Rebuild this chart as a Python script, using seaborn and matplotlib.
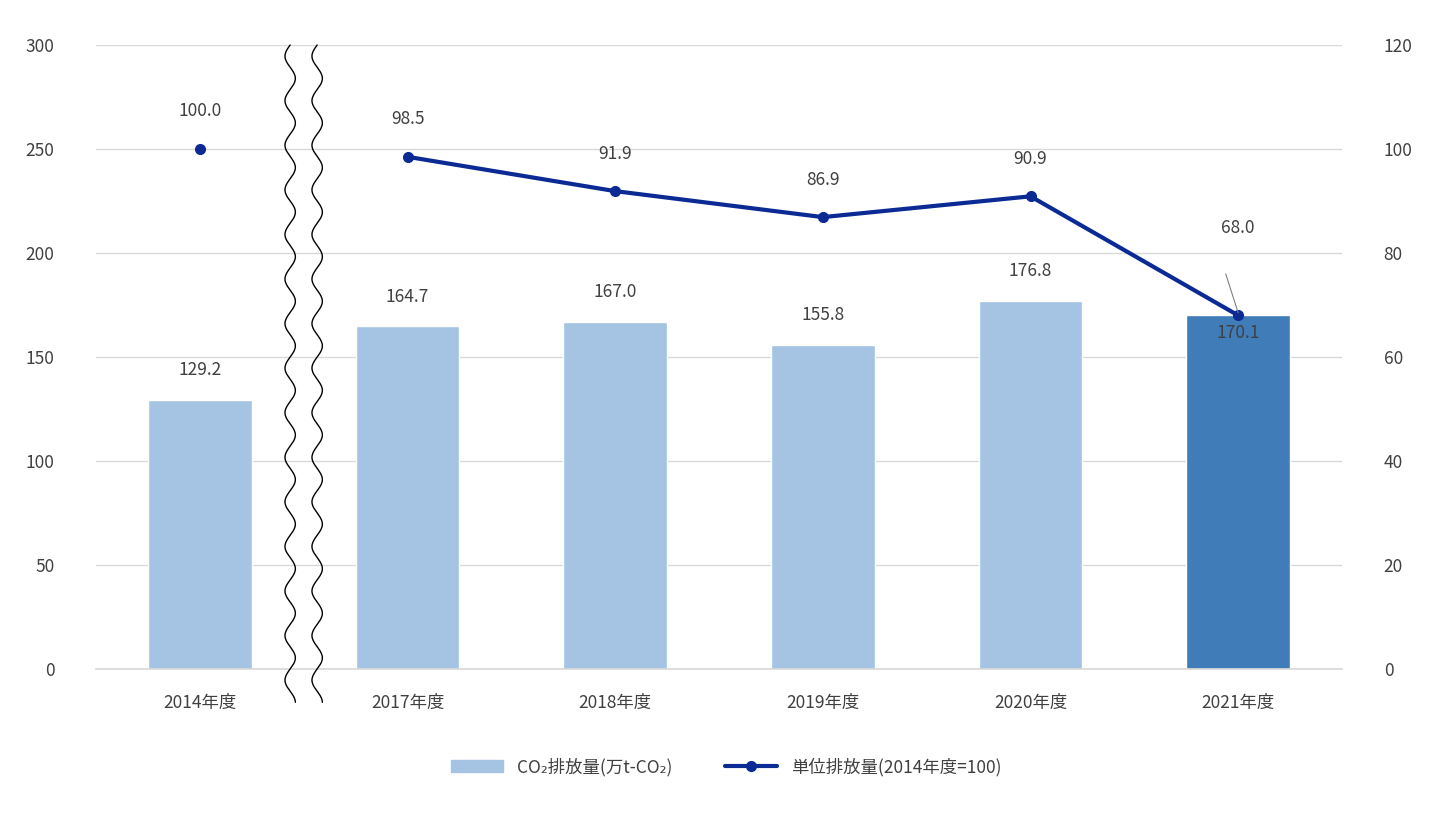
import numpy as np
import pandas as pd
import matplotlib
matplotlib.use("Agg")
import matplotlib.pyplot as plt
import seaborn as sns
from matplotlib.patches import Patch
from matplotlib.lines import Line2D

years = ["2014年度", "2017年度", "2018年度", "2019年度", "2020年度", "2021年度"]
co2 = [129.2, 164.7, 167.0, 155.8, 176.8, 170.1]
unit = [100.0, 98.5, 91.9, 86.9, 90.9, 68.0]

sns.set_theme(style="white")
plt.rcParams['font.family'] = ['Noto Sans CJK JP', 'DejaVu Sans']
tc = "#404040"
light, dark, lc = "#A5C3E2", "#3F7CB8", "#0B2A94"

fig = plt.figure(figsize=(14.38, 8.25), dpi=100)
ax = fig.add_axes([96/1438, 1-669/825, 1246/1438, 624/825])
df = pd.DataFrame({"year": years, "co2": co2})
sns.barplot(data=df, x="year", y="co2", ax=ax, width=0.5,
            palette=[light]*5 + [dark], hue="year", legend=False, saturation=1)
ax.set_xlim(-0.5, 5.5)
ax.set_ylim(0, 300)
ax.set_yticks(range(0, 301, 50))
ax.yaxis.grid(True, color="#D9D9D9", lw=1)
ax.set_axisbelow(True)
for s in ["top", "right", "left"]:
    ax.spines[s].set_visible(False)
ax.spines["bottom"].set_color("#D9D9D9")
ax.set_xlabel(""); ax.set_ylabel("")
ax.tick_params(axis="both", colors=tc, labelsize=12.5, length=0)
ax.tick_params(axis="y", pad=30)
ax.tick_params(axis="x", pad=18)
for i, v in enumerate(co2):
    if i == 5:
        ax.text(i, v - 4, f"{v:.1f}", ha="center", va="top", fontsize=12.5, color=tc)
    else:
        ax.text(i, v + 10, f"{v:.1f}", ha="center", va="bottom", fontsize=12.5, color=tc)

ax2 = ax.twinx()
ax2.set_ylim(0, 120)
ax2.set_yticks(range(0, 121, 20))
for s in ax2.spines.values():
    s.set_visible(False)
ax2.tick_params(axis="y", colors=tc, labelsize=12.5, length=0, pad=30)
ax2.plot([0], [unit[0]], "o", color=lc, ms=7)
ax2.plot(range(1, 6), unit[1:], "-o", color=lc, lw=3, ms=7)
for i, v in enumerate(unit):
    if i == 5:
        ax2.text(i, v + 15, f"{v:.1f}", ha="center", va="bottom", fontsize=12.5, color=tc)
        ax2.plot([i - 0.06, i], [v + 8, v + 0.5], color="#808080", lw=0.8)
    else:
        ax2.text(i, v + 5.5, f"{v:.1f}", ha="center", va="bottom", fontsize=12.5, color=tc)

# axis break (wavy lines)
yy = np.linspace(-16, 300, 600)
for xc in (0.435, 0.565):
    xx = xc + 0.025 * np.sin(yy / 300 * 2 * np.pi * 14)
    ax.plot(xx, yy, color="black", lw=1, clip_on=False, zorder=5)

handles = [Patch(color=light, label="CO₂排放量(万t-CO₂)"),
           Line2D([0], [0], color=lc, lw=3, marker="o", ms=7, label="単位排放量(2014年度=100)")]
fig.legend(handles=handles, loc="center", bbox_to_anchor=(0.505, 1-767/825), ncol=2,
           frameon=False, fontsize=12.5, labelcolor=tc, handlelength=3, columnspacing=3)
fig.savefig("out.png", dpi=100)
